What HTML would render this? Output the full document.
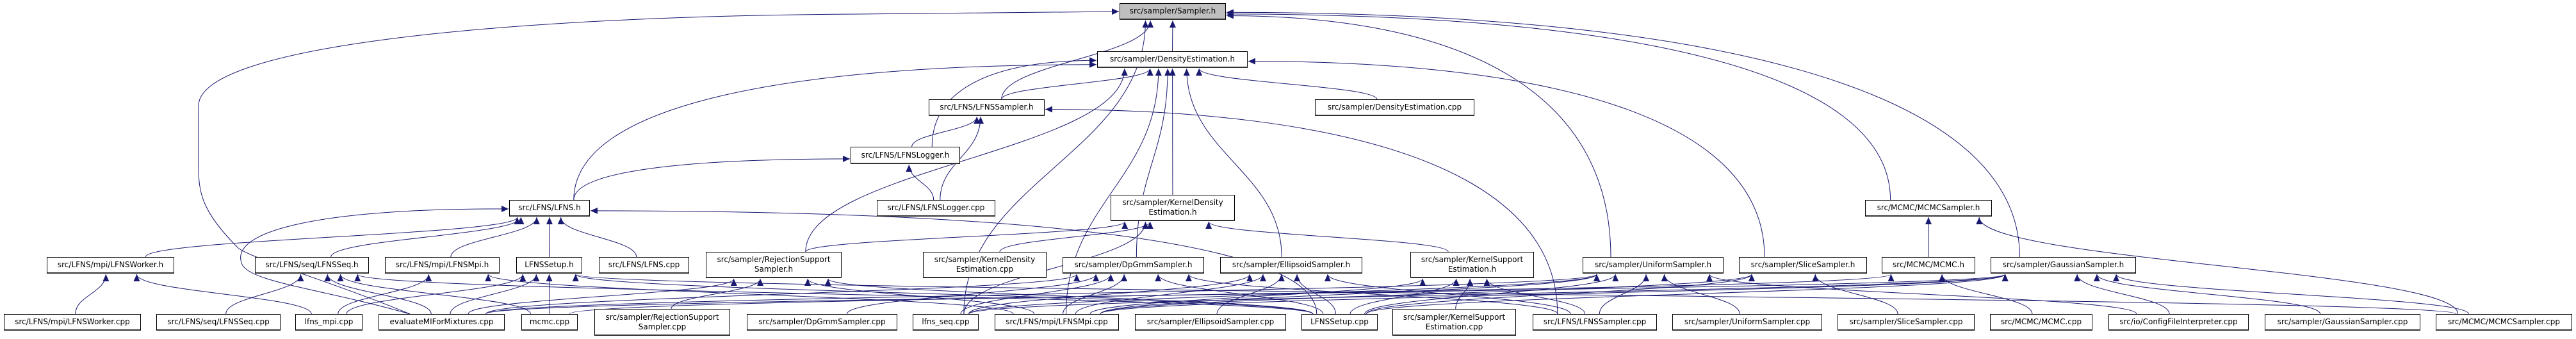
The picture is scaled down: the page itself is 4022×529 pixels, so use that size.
<!DOCTYPE html>
<html><head><meta charset="utf-8">
<style>
html,body{margin:0;padding:0;background:#fff;}
#c{position:relative;width:4022px;height:529px;overflow:hidden;}
svg{position:absolute;left:0;top:0;}
.n{position:absolute;box-sizing:border-box;border:1px solid #000;border-bottom:2px solid #333;background:#fff;font-family:"DejaVu Sans","Liberation Sans",sans-serif;font-size:12px;color:#000;display:flex;align-items:center;justify-content:center;text-align:center;line-height:15px;white-space:nowrap;}
</style></head><body><div id="c">
<svg id="s" width="4022" height="529" xmlns="http://www.w3.org/2000/svg">
<defs><marker id="a" markerUnits="userSpaceOnUse" markerWidth="12" markerHeight="10" refX="11" refY="5" orient="auto"><path d="M0,0 L11,5 L0,10 z" fill="#191970"/></marker></defs>
<g id="e" fill="none" stroke="#191970" stroke-width="1"></g>
</svg>
<div class="n" style="left:1748px;top:5px;width:166px;height:26px;background:#bfbfbf">src/sampler/Sampler.h</div>
<div class="n" style="left:1713px;top:80px;width:235px;height:26px">src/sampler/DensityEstimation.h</div>
<div class="n" style="left:1450px;top:155px;width:181px;height:26px">src/LFNS/LFNSSampler.h</div>
<div class="n" style="left:2053px;top:155px;width:249px;height:26px">src/sampler/DensityEstimation.cpp</div>
<div class="n" style="left:1328px;top:229px;width:171px;height:27px">src/LFNS/LFNSLogger.h</div>
<div class="n" style="left:795px;top:312px;width:126px;height:26px">src/LFNS/LFNS.h</div>
<div class="n" style="left:1369px;top:312px;width:185px;height:26px">src/LFNS/LFNSLogger.cpp</div>
<div class="n" style="left:1734px;top:304px;width:194px;height:41px">src/sampler/KernelDensity<br>Estimation.h</div>
<div class="n" style="left:2912px;top:312px;width:198px;height:26px">src/MCMC/MCMCSampler.h</div>
<div class="n" style="left:73px;top:401px;width:199px;height:26px">src/LFNS/mpi/LFNSWorker.h</div>
<div class="n" style="left:398px;top:401px;width:178px;height:26px">src/LFNS/seq/LFNSSeq.h</div>
<div class="n" style="left:601px;top:401px;width:179px;height:26px">src/LFNS/mpi/LFNSMpi.h</div>
<div class="n" style="left:806px;top:401px;width:103px;height:26px">LFNSSetup.h</div>
<div class="n" style="left:935px;top:401px;width:141px;height:26px">src/LFNS/LFNS.cpp</div>
<div class="n" style="left:1102px;top:393px;width:212px;height:41px">src/sampler/RejectionSupport<br>Sampler.h</div>
<div class="n" style="left:1441px;top:393px;width:193px;height:41px">src/sampler/KernelDensity<br>Estimation.cpp</div>
<div class="n" style="left:1659px;top:401px;width:221px;height:26px">src/sampler/DpGmmSampler.h</div>
<div class="n" style="left:1905px;top:401px;width:222px;height:26px">src/sampler/EllipsoidSampler.h</div>
<div class="n" style="left:2202px;top:393px;width:193px;height:41px">src/sampler/KernelSupport<br>Estimation.h</div>
<div class="n" style="left:2471px;top:401px;width:220px;height:26px">src/sampler/UniformSampler.h</div>
<div class="n" style="left:2715px;top:401px;width:200px;height:26px">src/sampler/SliceSampler.h</div>
<div class="n" style="left:2938px;top:401px;width:146px;height:26px">src/MCMC/MCMC.h</div>
<div class="n" style="left:3108px;top:401px;width:227px;height:26px">src/sampler/GaussianSampler.h</div>
<div class="n" style="left:6px;top:490px;width:214px;height:26px">src/LFNS/mpi/LFNSWorker.cpp</div>
<div class="n" style="left:244px;top:490px;width:194px;height:26px">src/LFNS/seq/LFNSSeq.cpp</div>
<div class="n" style="left:461px;top:490px;width:105px;height:26px">lfns_mpi.cpp</div>
<div class="n" style="left:591px;top:490px;width:197px;height:26px">evaluateMIForMixtures.cpp</div>
<div class="n" style="left:814px;top:490px;width:88px;height:26px">mcmc.cpp</div>
<div class="n" style="left:928px;top:482px;width:212px;height:42px">src/sampler/RejectionSupport<br>Sampler.cpp</div>
<div class="n" style="left:1166px;top:490px;width:235px;height:26px">src/sampler/DpGmmSampler.cpp</div>
<div class="n" style="left:1425px;top:490px;width:103px;height:26px">lfns_seq.cpp</div>
<div class="n" style="left:1553px;top:490px;width:194px;height:26px">src/LFNS/mpi/LFNSMpi.cpp</div>
<div class="n" style="left:1772px;top:490px;width:236px;height:26px">src/sampler/EllipsoidSampler.cpp</div>
<div class="n" style="left:2032px;top:490px;width:119px;height:26px">LFNSSetup.cpp</div>
<div class="n" style="left:2174px;top:482px;width:193px;height:42px">src/sampler/KernelSupport<br>Estimation.cpp</div>
<div class="n" style="left:2393px;top:490px;width:194px;height:26px">src/LFNS/LFNSSampler.cpp</div>
<div class="n" style="left:2611px;top:490px;width:234px;height:26px">src/sampler/UniformSampler.cpp</div>
<div class="n" style="left:2869px;top:490px;width:214px;height:26px">src/sampler/SliceSampler.cpp</div>
<div class="n" style="left:3107px;top:490px;width:160px;height:26px">src/MCMC/MCMC.cpp</div>
<div class="n" style="left:3292px;top:490px;width:219px;height:26px">src/io/ConfigFileInterpreter.cpp</div>
<div class="n" style="left:3536px;top:490px;width:243px;height:26px">src/sampler/GaussianSampler.cpp</div>
<div class="n" style="left:3803px;top:490px;width:213px;height:26px">src/MCMC/MCMCSampler.cpp</div>
</div>
<script>
var N={
S:[1748,5,166,26],DE:[1713,80,235,26],LS:[1450,155,181,26],DEc:[2053,155,249,26],LL:[1328,229,171,27],
LH:[795,312,126,26],LLc:[1369,312,185,26],KDE:[1734,304,194,41],MCS:[2912,312,198,26],
LW:[73,401,199,26],LSq:[398,401,178,26],LM:[601,401,179,26],LSt:[806,401,103,26],LFc:[935,401,141,26],
RSS:[1102,393,212,41],KDEc:[1441,393,193,41],DP:[1659,401,221,26],EL:[1905,401,222,26],KSE:[2202,393,193,41],
UN:[2471,401,220,26],SL:[2715,401,200,26],MC:[2938,401,146,26],GA:[3108,401,227,26],
LWc:[6,490,214,26],LSqc:[244,490,194,26],lm:[461,490,105,26],ev:[591,490,197,26],mc:[814,490,88,26],
RSSc:[928,482,212,42],DPc:[1166,490,235,26],ls:[1425,490,103,26],LMc:[1553,490,194,26],ELc:[1772,490,236,26],
LStc:[2032,490,119,26],KSEc:[2174,482,193,42],LSc:[2393,490,194,26],UNc:[2611,490,234,26],SLc:[2869,490,214,26],
MCc:[3107,490,160,26],CF:[3292,490,219,26],GAc:[3536,490,243,26],MCSc:[3803,490,213,26]};
var E=[["DE","S"],["LS","S"],["ls","S"],["UN","S","R",0.75],["GA","S","R",0.55],["MCS","S","R",0.65],
["LS","DE"],["LL","DE","L",0.55],["LH","DE","L",0.8],["KDE","DE"],["DEc","DE"],["DP","DE"],["EL","DE"],["SL","DE","R",0.6],["RSS","DE"],["LMc","DE"],
["LL","LS"],["LLc","LS"],["LSc","LS","R",0.6],["LH","LL","L",0.7],["LLc","LL"],
["LW","LH"],["LSq","LH"],["LM","LH"],["LSt","LH"],["LFc","LH"],["LStc","LH","R",0.65],
["LWc","LW"],["lm","LW"],["LSqc","LSq"],["ev","LSq"],["mc","LSq"],["LStc","LSq"],["lm","LM"],["LMc","LM"],
["lm","LSt"],["mc","LSt"],["LStc","LSt"],["MCSc","LSt"],["ev","LSt"],
["ev","RSS"],["RSSc","RSS"],["LStc","RSS"],["LMc","RSS"],["KDEc","KDE"],["KSE","KDE"],["ls","KDE"],["RSS","KDE"],
["ls","DP"],["LMc","DP"],["ev","DP"],["LStc","DP"],["DPc","DP"],["LSc","DP"],
["ELc","EL"],["LMc","EL"],["LStc","EL"],["LSc","EL"],["ls","EL"],
["KSEc","KSE"],["LStc","KSE"],["LSc","KSE"],["LMc","KSE"],
["UNc","UN"],["LSc","UN"],["LStc","UN"],["LMc","UN"],["ls","UN"],["ev","UN"],["CF","UN"],
["SLc","SL"],["LStc","SL"],["LMc","SL"],["MCc","MC"],["mc","MC"],["MC","MCS"],["MCSc","MCS"],
["GAc","GA"],["CF","GA"],["MCSc","GA"],["LStc","GA"],["ls","GA"],["ev","GA"],["LMc","GA"]];
var g=document.getElementById("e"),ns="http://www.w3.org/2000/svg";
function add(d){var p=document.createElementNS(ns,"path");p.setAttribute("d",d);p.setAttribute("marker-end","url(#a)");g.appendChild(p);}
function cl(v,m){return Math.max(-m,Math.min(m,v));}
E.forEach(function(e){var c=N[e[0]],p=N[e[1]];
var ccx=c[0]+c[2]/2,pcx=p[0]+p[2]/2;
if(e[2]){var sx=ccx+cl((pcx-ccx)*0.1,c[2]*0.3),sy=c[1];
var tx=e[2]=="R"?p[0]+p[2]+1:p[0]-1,ty=p[1]+p[3]*e[3];
add("M"+sx+","+sy+" C"+sx+","+(ty+(sy-ty)*0.3)+" "+(sx+(tx-sx)*0.4)+","+ty+" "+tx+","+ty);return;}
var sx=ccx+cl((pcx-ccx)*0.08,c[2]*0.35),sy=c[1];
var tx=pcx+cl((ccx-pcx)*0.12,p[2]*0.4),ty=p[1]+p[3]+1;
var dy=(sy-ty)*0.45;
add("M"+sx+","+sy+" C"+sx+","+(sy-dy)+" "+tx+","+(ty+dy)+" "+tx+","+ty);});
add("M640,490 C520,440 380,400 370,385 C315,330 310,300 310,260 L310,165 C310,70 800,25 1340,22 L1747,18");
add("M640,490 C500,450 385,440 377,410 C360,360 500,325 794,326");
</script>
</body></html>
